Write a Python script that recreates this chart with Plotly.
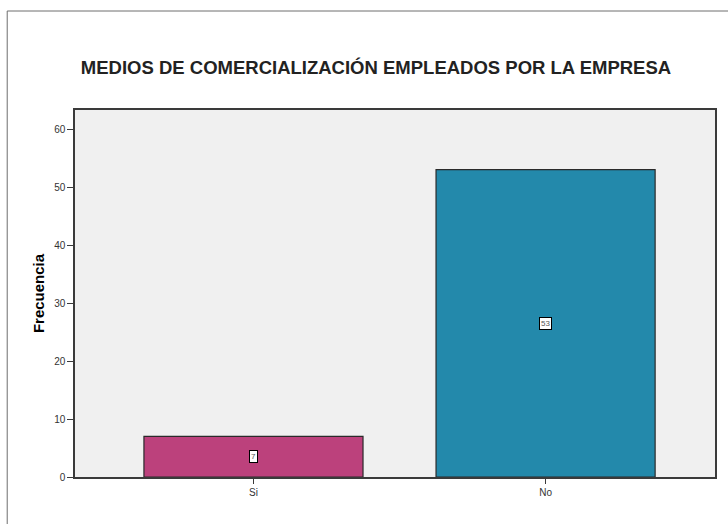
import plotly.graph_objects as go

categories = ["Si", "No"]
values = [7, 53]
colors = ["#BC417C", "#2389AB"]

W, H = 728, 524
ml, mr, mt, mb = 75, 11, 110, 47
pw, ph = W - ml - mr, H - mt - mb

fig = go.Figure()
fig.add_trace(go.Bar(
    x=categories, y=values, width=0.75,
    marker=dict(color=colors, line=dict(color="#2a2a2a", width=1.2)),
    hoverinfo="skip", showlegend=False,
))

for c, v in zip(categories, values):
    fig.add_annotation(
        x=c, y=v / 2, text=str(v), showarrow=False,
        font=dict(family="Liberation Sans, Arial", size=8, color="#555"),
        bgcolor="white", bordercolor="black", borderwidth=1, borderpad=1,
    )

# outer frame
fx = (7 - ml) / pw
fy = 1 + (mt - 11) / ph
fig.add_shape(type="line", xref="paper", yref="paper", x0=fx, x1=1.2, y0=fy, y1=fy,
              line=dict(color="#6e6e6e", width=1))
fig.add_shape(type="line", xref="paper", yref="paper", x0=fx, x1=fx, y0=fy, y1=-0.3,
              line=dict(color="#6e6e6e", width=1))

fig.update_layout(
    width=W, height=H,
    margin=dict(l=ml, r=mr, t=mt, b=mb),
    paper_bgcolor="white", plot_bgcolor="#F0F0F0",
    title=dict(text="<b>MEDIOS DE COMERCIALIZACIÓN EMPLEADOS POR LA EMPRESA</b>",
               x=376 / W, xanchor="center", y=1 - 68 / H, yanchor="middle",
               font=dict(family="Liberation Sans, Arial", size=18.5, color="#222")),
    bargap=0.25,
)
fig.update_xaxes(
    range=[-0.611, 1.58], showgrid=False, zeroline=False,
    showline=True, linecolor="#3a3a3a", linewidth=1.5, mirror=True,
    ticks="outside", ticklen=5, tickcolor="#3a3a3a",
    tickfont=dict(family="Liberation Sans, Arial", size=10, color="#333"),
)
fig.update_yaxes(
    range=[0, 63.3], dtick=10, showgrid=False, zeroline=False,
    showline=True, linecolor="#3a3a3a", linewidth=1.5, mirror=True,
    ticks="outside", ticklen=6, tickcolor="#3a3a3a",
    tickfont=dict(family="Liberation Sans, Arial", size=10, color="#333"),
    title=dict(text="<b>Frecuencia</b>", standoff=6,
               font=dict(family="Liberation Sans, Arial", size=15, color="black")),
)

fig.write_html("out.html")
